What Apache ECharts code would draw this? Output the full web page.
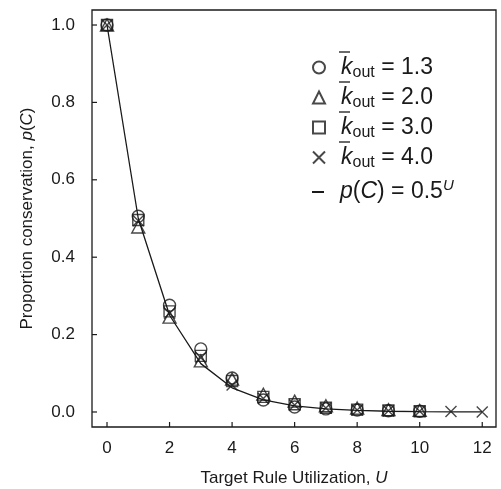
<!DOCTYPE html>
<html><head><meta charset="utf-8">
<script src="https://cdn.jsdelivr.net/npm/echarts@6/dist/echarts.min.js"></script>
<style>html,body{margin:0;padding:0;background:#fff}#c{width:501px;height:489px}</style>
</head><body><div id="c"></div>
<script>
var xTicks = [0, 2, 4, 6, 8, 10, 12];
var yTicks = [0, 0.2, 0.4, 0.6, 0.8, 1.0];
var uShort = [0, 1, 2, 3, 4, 5, 6, 7, 8, 9, 10];
var uLong = [0, 1, 2, 3, 4, 5, 6, 7, 8, 9, 10, 11, 12];
var k13 = [1.0, 0.506, 0.276, 0.163, 0.088, 0.031, 0.013, 0.008, 0.005, 0.003, 0.002];
var k20 = [1.0, 0.478, 0.245, 0.132, 0.085, 0.046, 0.028, 0.016, 0.010, 0.006, 0.004];
var k30 = [1.0, 0.496, 0.260, 0.145, 0.080, 0.039, 0.020, 0.011, 0.006, 0.004, 0.002];
var k40 = [1.0, 0.494, 0.255, 0.140, 0.070, 0.035, 0.018, 0.010, 0.005, 0.003, 0.002, 0.001, 0.0];
var fitVals = [1.0, 0.5, 0.25, 0.125, 0.0625, 0.03125, 0.015625, 0.0078125, 0.00390625, 0.001953, 0.000977, 0.000488, 0.000244];
var names = ['k13', 'k20', 'k30', 'k40', 'fit'];
var legendVals = ['1.3', '2.0', '3.0', '4.0'];

var X_MIN = -0.48, X_MAX = 12.44, Y_MIN = -0.0388, Y_MAX = 1.0388;

function pairs(xs, ys) { return xs.map(function (x, i) { return [x, ys[i]]; }); }
var FONT = '"Liberation Sans", Arial, Helvetica, sans-serif';
var INK = '#1a1a1a';
var crossPath = 'path://M0,0L10,10M10,0L0,10';

var chart = echarts.init(document.getElementById('c'), null, {renderer: 'canvas'});
function markerStyle() { return {color: 'rgba(0,0,0,0)', borderColor: INK, borderWidth: 1.4}; }

var legendRich = {
  k: {fontFamily: FONT, fontSize: 23, fontStyle: 'italic', color: INK, padding: [0, 0, 0, 11]},
  ki: {fontFamily: FONT, fontSize: 23, fontStyle: 'italic', color: INK},
  s: {fontFamily: FONT, fontSize: 16, color: INK, padding: [11, 0, 0, 0]},
  t: {fontFamily: FONT, fontSize: 23, color: INK},
  sup: {fontFamily: FONT, fontSize: 15, fontStyle: 'italic', color: INK, padding: [0, 0, 13, 0]}
};
var legendTops = [51, 81, 111, 141, 173];
var legends = names.map(function (n, i) {
  var item = n === 'fit' ? {name: n, icon: 'rect', itemStyle: {color: INK, borderWidth: 0}} : n;
  return {
    show: true, orient: 'vertical', left: 307, top: legendTops[i],
    data: [item], itemWidth: 12, itemHeight: n === 'fit' ? 2 : 12, selectedMode: false,
    textStyle: {rich: legendRich},
    formatter: function (name) {
      if (name === 'fit') return '{k|p}{t|(}{ki|C}{t|) = 0.5}{sup|U}';
      return '{k|k}{s|out}{t| = ' + legendVals[names.indexOf(name)] + '}';
    }
  };
});
var titleStyle = {fontFamily: FONT, fontSize: 17, color: INK, rich: {i: {fontFamily: FONT, fontSize: 17, fontStyle: 'italic', color: INK}}};

function tickSeries(data, vertical) {
  return {
    type: 'custom', silent: true, clip: false, z: 5, data: data,
    renderItem: function (params, api) {
      var p = api.coord([api.value(0), api.value(1)]);
      var shape = vertical ? {x1: p[0], y1: p[1], x2: p[0], y2: p[1] - 5} : {x1: p[0], y1: p[1], x2: p[0] + 5, y2: p[1]};
      return {type: 'line', shape: shape, style: {stroke: INK, lineWidth: 1.2}};
    }
  };
}

var option = {
  animation: false,
  backgroundColor: '#fff',
  grid: {left: 92, top: 10, right: 5, bottom: 62, show: true, borderColor: INK, borderWidth: 1.3, backgroundColor: 'transparent', containLabel: false, outerBoundsMode: 'none'},
  legend: legends,
  xAxis: {
    type: 'value', min: X_MIN, max: X_MAX,
    axisLine: {show: false, onZero: false}, splitLine: {show: false}, axisTick: {show: false},
    axisLabel: {show: true, customValues: xTicks, fontFamily: FONT, fontSize: 17, color: INK, margin: 13},
    name: 'Target Rule Utilization, {i|U}', nameLocation: 'middle', nameGap: 43, nameTextStyle: titleStyle
  },
  yAxis: {
    type: 'value', min: Y_MIN, max: Y_MAX,
    axisLine: {show: false, onZero: false}, splitLine: {show: false}, axisTick: {show: false},
    axisLabel: {show: true, customValues: yTicks, fontFamily: FONT, fontSize: 17, color: INK, margin: 17,
      formatter: function (v) { return v.toFixed(1); }},
    name: 'Proportion conservation, {i|p}({i|C})', nameLocation: 'middle', nameGap: 56, nameRotate: 90, nameTextStyle: titleStyle
  },
  series: [
    tickSeries(xTicks.map(function (v) { return [v, Y_MIN]; }), true),
    tickSeries(yTicks.map(function (v) { return [X_MIN, v]; }), false),
    {name: 'fit', type: 'line', data: pairs(uLong, fitVals), symbol: 'none', lineStyle: {color: INK, width: 1.3}, itemStyle: {color: INK}, z: 1},
    {name: 'k13', type: 'scatter', data: pairs(uShort, k13), symbol: 'circle', symbolSize: 12, itemStyle: markerStyle(), z: 3},
    {name: 'k20', type: 'scatter', data: pairs(uShort, k20), symbol: 'triangle', symbolSize: [13, 12], itemStyle: markerStyle(), z: 3},
    {name: 'k30', type: 'scatter', data: pairs(uShort, k30), symbol: 'rect', symbolSize: 11, itemStyle: markerStyle(), z: 3},
    {name: 'k40', type: 'scatter', data: pairs(uLong, k40), symbol: crossPath, symbolSize: 11, itemStyle: markerStyle(), z: 3}
  ],
  graphic: [0, 1, 2, 3].map(function (i) {
    return {type: 'line', shape: {x1: 339, y1: legendTops[i] + 1, x2: 350, y2: legendTops[i] + 1}, style: {stroke: INK, lineWidth: 1.3}, z: 10};
  })
};
chart.setOption(option);
</script></body></html>
